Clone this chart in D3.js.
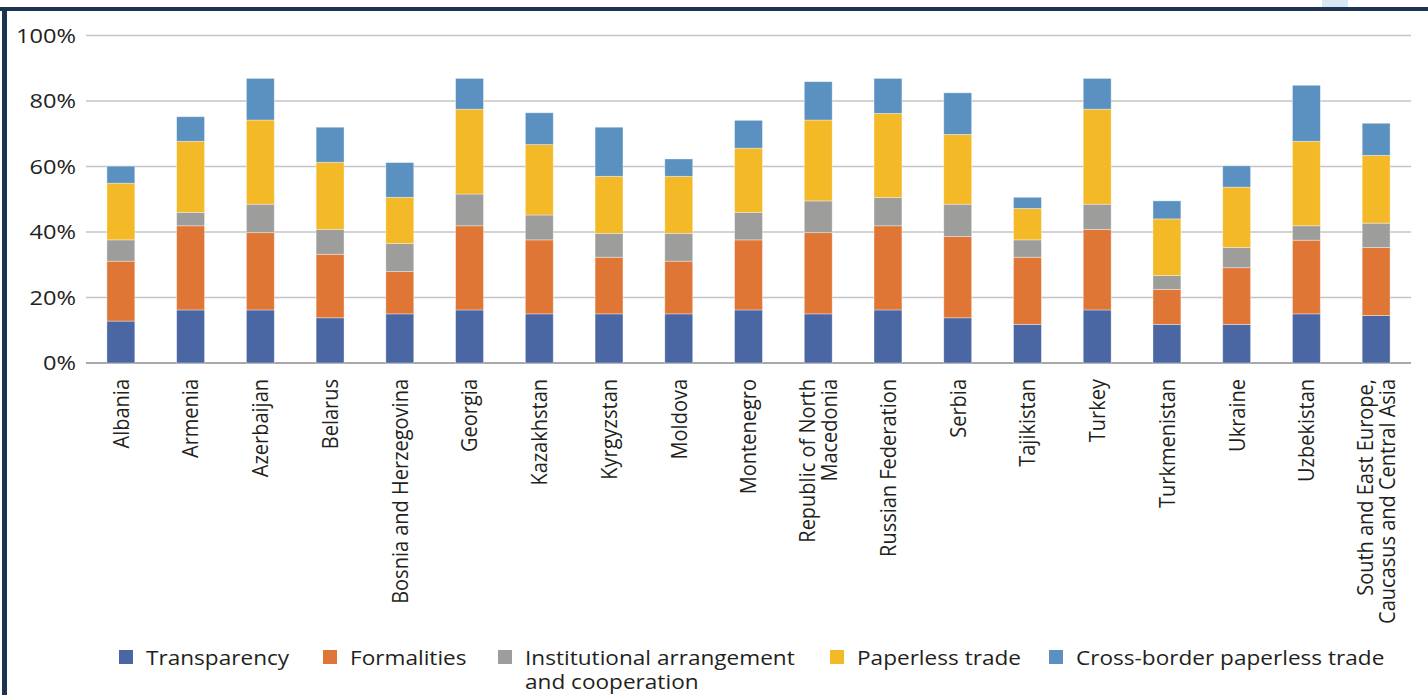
<!DOCTYPE html>
<html>
<head>
  <meta charset="utf-8">
  <style>
  body { margin: 0; background: #fff; }
  text { font-family: "Open Sans", "Noto Sans", sans-serif; fill: #231f20; }
  .grid line { stroke: #c4c4c4; stroke-width: 1.5px; }
  .bars rect { stroke: rgba(255,255,255,0.45); stroke-width: 0.8px; }
  </style>
</head>
<body>
<svg width="1428" height="695"></svg>
<script src="https://d3js.org/d3.v7.min.js"></script>
<script>

var categories = ["Albania", "Armenia", "Azerbaijan", "Belarus", "Bosnia and Herzegovina",
  "Georgia", "Kazakhstan", "Kyrgyzstan", "Moldova", "Montenegro",
  "Republic of North\nMacedonia", "Russian Federation", "Serbia", "Tajikistan", "Turkey",
  "Turkmenistan", "Ukraine", "Uzbekistan", "South and East Europe,\nCaucasus and Central Asia"];

var transparency  = [12.8, 16.2, 16.2, 13.8, 15.0, 16.2, 15.0, 15.0, 15.0, 16.2, 15.0, 16.2, 13.8, 11.8, 16.2, 11.8, 11.8, 15.0, 14.5];
var formalities   = [18.3, 25.7, 23.6, 19.4, 12.9, 25.7, 22.6, 17.3, 16.1, 21.4, 24.8, 25.7, 24.8, 20.5, 24.6, 10.7, 17.3, 22.5, 20.8];
var institutional = [ 6.5,  4.1,  8.7,  7.6,  8.6,  9.7,  7.6,  7.3,  8.5,  8.4,  9.7,  8.6,  9.9,  5.3,  7.7,  4.2,  6.2,  4.4,  7.4];
var paperless     = [17.3, 21.7, 25.7, 20.5, 14.1, 25.9, 21.5, 17.4, 17.4, 19.6, 24.7, 25.7, 21.3,  9.6, 29.0, 17.3, 18.4, 25.8, 20.7];
var crossBorder   = [ 5.2,  7.5, 12.7, 10.7, 10.6,  9.4,  9.7, 15.0,  5.3,  8.5, 11.7, 10.7, 12.7,  3.4,  9.4,  5.5,  6.5, 17.1,  9.8];

var seriesNames = ["Transparency", "Formalities", "Institutional arrangement\nand cooperation", "Paperless trade", "Cross-border paperless trade"];
var colors = ["#4a66a3", "#e07636", "#9d9d9b", "#f4b926", "#5b91c0"];
var yTicks = [0, 20, 40, 60, 80, 100];

var svg = d3.select("svg");

// frame
svg.append("rect").attr("x", 1322).attr("y", 0).attr("width", 26).attr("height", 8).attr("fill", "#d6e8f4");
svg.append("rect").attr("x", 0).attr("y", 7).attr("width", 1428).attr("height", 4).attr("fill", "#1c3452");
svg.append("rect").attr("x", 2).attr("y", 7).attr("width", 5).attr("height", 688).attr("fill", "#1c3452");

var x = d3.scaleBand()
    .domain(categories)
    .range([86, 1411])
    .paddingInner(0.6)
    .paddingOuter(0.3);

var y = d3.scaleLinear()
    .domain([0, 100])
    .range([363, 35.5]);

var table = categories.map(function(c, i) {
  return { cat: c, s0: transparency[i], s1: formalities[i], s2: institutional[i], s3: paperless[i], s4: crossBorder[i] };
});

var stack = d3.stack().keys(["s0", "s1", "s2", "s3", "s4"]);
var layers = stack(table);

// gridlines
svg.append("g")
    .attr("class", "grid")
  .selectAll("line")
  .data(yTicks)
  .enter().append("line")
    .attr("x1", 86)
    .attr("x2", 1411)
    .attr("y1", function(d) { return y(d); })
    .attr("y2", function(d) { return y(d); })
    .style("stroke", function(d) { return d === 0 ? "#8c8c8c" : null; });

// y labels (source font is wider, so stretch a bit)
svg.append("g")
  .selectAll("text")
  .data(yTicks)
  .enter().append("text")
    .attr("text-anchor", "end")
    .attr("dy", "0.36em")
    .style("font-size", "20px")
    .attr("transform", function(d) { return "translate(76," + y(d) + ") scale(1.18,1)"; })
    .text(function(d) { return d + "%"; });

// bars
svg.append("g")
    .attr("class", "bars")
  .selectAll("g")
  .data(layers)
  .enter().append("g")
    .attr("fill", function(d, i) { return colors[i]; })
  .selectAll("rect")
  .data(function(d) { return d; })
  .enter().append("rect")
    .attr("x", function(d) { return x(d.data.cat); })
    .attr("y", function(d) { return y(d[1]); })
    .attr("height", function(d) { return y(d[0]) - y(d[1]); })
    .attr("width", x.bandwidth());

// x labels, rotated
var xl = svg.append("g")
  .selectAll("text")
  .data(categories)
  .enter().append("text")
    .attr("text-anchor", "end")
    .style("font-size", "20px")
    .attr("transform", function(d) {
      return "translate(" + (x(d) + x.bandwidth() / 2) + ",379) rotate(-90) scale(1,1.12)";
    });

xl.each(function(d) {
  var lines = d.split("\n");
  var t = d3.select(this);
  lines.forEach(function(l, i) {
    t.append("tspan")
      .attr("x", 0)
      .attr("y", (i - (lines.length - 1) / 2) * 19)
      .attr("dy", "0.35em")
      .text(l);
  });
});

// legend
var legX = [119, 323, 498, 830, 1049];
var leg = svg.append("g")
  .selectAll("g")
  .data(seriesNames)
  .enter().append("g")
    .attr("transform", function(d, i) { return "translate(" + legX[i] + ",650)"; });

leg.append("rect")
    .attr("width", 14)
    .attr("height", 14)
    .attr("fill", function(d, i) { return colors[i]; });

leg.append("text")
    .style("font-size", "20px")
    .attr("transform", "translate(27,0) scale(1.13,1)")
    .each(function(d) {
      var t = d3.select(this);
      d.split("\n").forEach(function(l, i) {
        t.append("tspan")
          .attr("x", 0)
          .attr("y", 15 + i * 24)
          .text(l);
      });
    });

</script>
</body>
</html>
